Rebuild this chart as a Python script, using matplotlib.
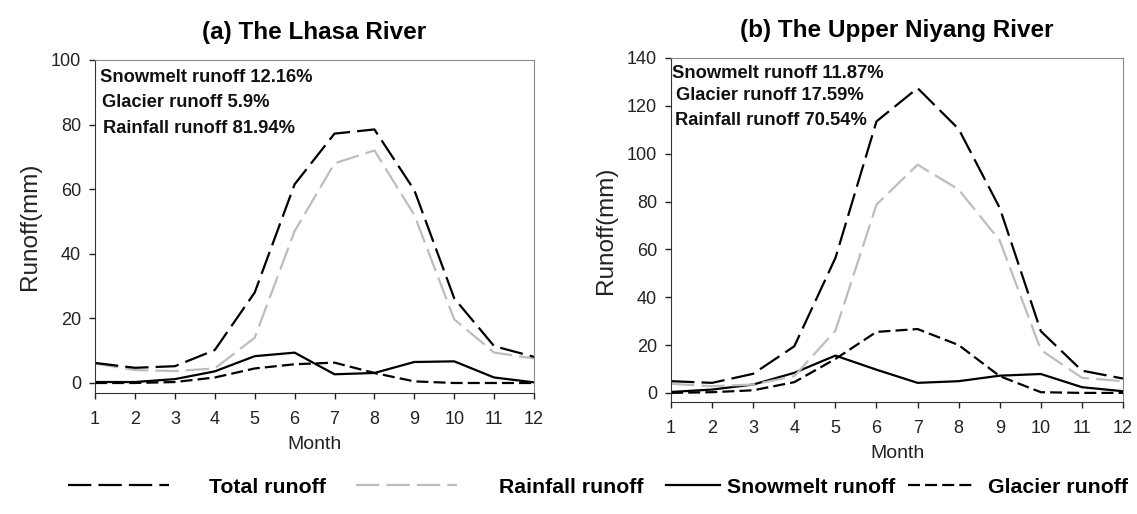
import matplotlib
matplotlib.use("Agg")
import matplotlib.pyplot as plt
from matplotlib.lines import Line2D

plt.rcParams['font.family'] = ['Liberation Sans', 'DejaVu Sans']

months = list(range(1, 13))

# (a) Lhasa River monthly runoff components (mm)
lhasa_total = [6.2, 4.7, 5.2, 10.2, 28.0, 61.5, 77.2, 78.5, 59.7, 26.2, 11.4, 8.1]
lhasa_rain = [6.0, 4.0, 3.7, 4.5, 14.0, 47.0, 68.0, 72.0, 52.0, 19.7, 9.4, 7.6]
lhasa_snow = [0.3, 0.3, 1.2, 3.6, 8.3, 9.4, 2.7, 3.1, 6.5, 6.7, 1.7, 0.2]
lhasa_glacier = [0.0, 0.0, 0.3, 1.7, 4.5, 5.8, 6.3, 3.1, 0.5, 0.0, 0.0, 0.0]
lhasa_shares = ["Snowmelt runoff 12.16%", "Glacier runoff 5.9%", "Rainfall runoff 81.94%"]

# (b) Upper Niyang River monthly runoff components (mm)
niyang_total = [4.9, 4.2, 8.0, 19.5, 56.4, 113.5, 127.4, 110.3, 77.3, 25.8, 9.3, 6.0]
niyang_rain = [3.8, 2.8, 3.5, 7.0, 26.0, 78.7, 95.4, 85.0, 63.7, 18.0, 6.3, 4.9]
niyang_snow = [0.4, 1.4, 3.5, 8.4, 15.6, 9.7, 4.2, 4.9, 7.2, 7.9, 2.4, 0.7]
niyang_glacier = [0.0, 0.3, 1.1, 4.5, 14.2, 25.5, 26.7, 20.0, 7.0, 0.3, 0.0, 0.0]
niyang_shares = ["Snowmelt runoff 11.87%", "Glacier runoff 17.59%", "Rainfall runoff 70.54%"]

series_names = ["Total runoff", "Rainfall runoff", "Snowmelt runoff", "Glacier runoff"]

styles = {
    "Total runoff": dict(color="black", lw=1.6, dashes=(10.5, 3.2)),
    "Rainfall runoff": dict(color="#bdbdbd", lw=1.6, dashes=(10.5, 3.2)),
    "Snowmelt runoff": dict(color="black", lw=1.6, linestyle="-"),
    "Glacier runoff": dict(color="black", lw=1.6, dashes=(5.4, 2.3)),
}

fig = plt.figure(figsize=(11.37, 5.14), dpi=100)
ax_a = fig.add_axes([0.0836, 0.2354, 0.3861, 0.6479])
ax_b = fig.add_axes([0.5902, 0.2179, 0.3975, 0.6693])

panels = [
    (ax_a, "(a) The Lhasa River", [lhasa_total, lhasa_rain, lhasa_snow, lhasa_glacier],
     lhasa_shares, (-3.1, 100), range(0, 101, 20),
     [(0.011, 0.946), (0.016, 0.871), (0.018, 0.793)]),
    (ax_b, "(b) The Upper Niyang River", [niyang_total, niyang_rain, niyang_snow, niyang_glacier],
     niyang_shares, (-3.8, 140), range(0, 141, 20),
     [(0.003, 0.956), (0.011, 0.890), (0.009, 0.817)]),
]

for ax, title, data, shares, ylim, yticks, text_pos in panels:
    # draw in reverse so the total line sits on top
    for name, values in reversed(list(zip(series_names, data))):
        ax.plot(months, values, **styles[name])
    ax.set_xlim(1, 12)
    ax.set_ylim(*ylim)
    ax.set_xticks(months)
    ax.set_yticks(list(yticks))
    ax.tick_params(direction="out", length=4, width=1, labelsize=13, colors="#222222")
    ax.tick_params(axis="x", pad=9)
    ax.tick_params(axis="y", pad=6)
    for side in ["left", "bottom"]:
        ax.spines[side].set_color("#333333")
    for side in ["top", "right"]:
        ax.spines[side].set_color("#8a8a8a")
    ax.set_xlabel("Month", fontsize=14, color="#222222", labelpad=6)
    ax.set_ylabel("Runoff(mm)", fontsize=17.5, color="#222222", labelpad=7)
    ax.set_title(title, fontsize=17.5, fontweight="bold", pad=15)
    for txt, (tx, ty) in zip(shares, text_pos):
        ax.text(tx, ty, txt, transform=ax.transAxes, fontsize=13.2, fontweight="bold",
                va="center", ha="left", color="#111111")

# legend entries laid out along the bottom of the figure
legend_layout = [
    ("Total runoff", 0.0598, 4.75, 1.9),
    ("Rainfall runoff", 0.3131, 4.75, 2.0),
    ("Snowmelt runoff", 0.5860, 2.55, 0.3),
    ("Glacier runoff", 0.7990, 3.05, 0.7),
]
for name, x0, hl, pad in legend_layout:
    handle = Line2D([], [], **styles[name])
    fig.legend([handle], [name], loc="center left", bbox_to_anchor=(x0, 0.0525),
               frameon=False, borderpad=0, borderaxespad=0, handlelength=hl,
               handletextpad=pad, prop=dict(size=15.3, weight="bold"))

fig.savefig("out.png", dpi=100)
